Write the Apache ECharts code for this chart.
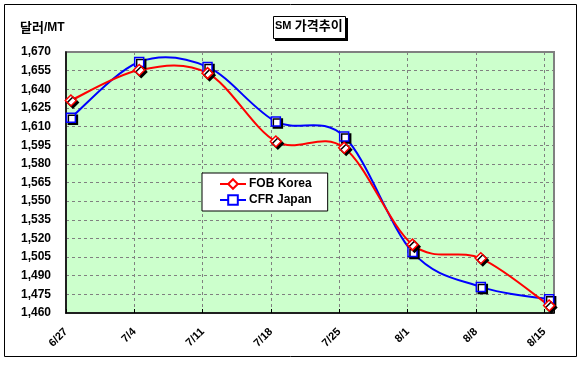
<!DOCTYPE html>
<html>
<head>
<meta charset="utf-8">
<script src="https://cdn.jsdelivr.net/npm/echarts@6/dist/echarts.min.js"></script>
<style>
html,body{margin:0;padding:0;background:#fff;}
#chart{width:587px;height:366px;}
</style>
</head>
<body>
<div id="chart"></div>
<script>
// ---- data ----
var dates = ['6/27', '7/4', '7/11', '7/18', '7/25', '8/1', '8/8', '8/15'];
var fobKorea = [1631, 1655.5, 1653, 1598, 1593, 1515, 1504, 1466];
var cfrJapan = [1617, 1662, 1658, 1614, 1602, 1509, 1481, 1471];
var yTicks = {min: 1460, max: 1670, step: 15};
var titleMain = 'SM';
var titleSub = '가격추이';
var unitMain = '달러';
var unitSub = '/MT';
var seriesNames = ['FOB Korea', 'CFR Japan'];

// day offset of each date from the first date (date axis)
function toDate(s) { var p = s.split('/'); return new Date(2000, +p[0] - 1, +p[1]); }
var start = toDate(dates[0]);
var dayIdx = dates.map(function (d) { return Math.round((toDate(d) - start) / 86400000); });
var lastDay = dayIdx[dayIdx.length - 1] + 1;
var labelByDay = {};
dayIdx.forEach(function (d, i) { labelByDay[d] = dates[i]; });
function pairs(vals) { return vals.map(function (v, i) { return [dayIdx[i] + 0.5, v]; }); }

// Excel-like smoothed line (Catmull-Rom bezier in screen space), drawn via the axes' scales
function smoothRenderer(vals, color) {
  var data = pairs(vals);
  return function (params, api) {
    var i = params.dataIndex, n = data.length;
    if (i >= n - 1) return null;
    var P = function (k) { k = Math.max(0, Math.min(n - 1, k)); return api.coord(data[k]); };
    var p0 = P(i - 1), p1 = P(i), p2 = P(i + 1), p3 = P(i + 2);
    return {
      type: 'bezierCurve',
      shape: {
        x1: p1[0], y1: p1[1], x2: p2[0], y2: p2[1],
        cpx1: p1[0] + (p2[0] - p0[0]) / 6, cpy1: p1[1] + (p2[1] - p0[1]) / 6,
        cpx2: p2[0] - (p3[0] - p1[0]) / 6, cpy2: p2[1] - (p3[1] - p1[1]) / 6
      },
      style: {stroke: color, lineWidth: 2, fill: null}
    };
  };
}

var chart = echarts.init(document.getElementById('chart'), null, {renderer: 'canvas'});
var shadow = {shadowColor: '#000', shadowBlur: 0, shadowOffsetX: 2, shadowOffsetY: 2};
var option = {
  animation: false,
  backgroundColor: '#fff',
  grid: {left: 66, top: 52, right: 33, bottom: 53, show: true, backgroundColor: '#CCFFCC', borderColor: '#808080', borderWidth: 2},
  xAxis: {
    type: 'value', min: 0, max: lastDay, interval: 7,
    axisLine: {show: true, onZero: false, lineStyle: {color: '#000', width: 1.5}},
    axisTick: {show: true, inside: true, length: 4, lineStyle: {color: '#000'}},
    splitLine: {show: true, lineStyle: {color: '#808080', type: [3, 3], width: 1}},
    axisLabel: {
      rotate: 45, margin: 17, fontFamily: 'Arial, Liberation Sans', fontWeight: 'bold', fontSize: 11, color: '#000',
      formatter: function (v) { return labelByDay[v] !== undefined ? labelByDay[v] : ''; }
    }
  },
  yAxis: {
    type: 'value', min: yTicks.min, max: yTicks.max, interval: yTicks.step,
    axisLine: {show: true, lineStyle: {color: '#000', width: 1.5}},
    axisTick: {show: false},
    splitLine: {show: true, lineStyle: {color: '#808080', type: [3, 3], width: 1}},
    axisLabel: {
      margin: 15, fontFamily: 'Arial, Liberation Sans', fontWeight: 'bold', fontSize: 12, color: '#000',
      formatter: function (v) { return v.toLocaleString('en-US'); }
    }
  },
  legend: {
    orient: 'vertical', left: 202, top: 173,
    padding: [5, 16, 5, 17], itemGap: 4, itemWidth: 26, itemHeight: 12,
    backgroundColor: '#fff', borderColor: '#000', borderWidth: 1,
    lineStyle: {width: 2, opacity: 1},
    textStyle: {fontFamily: 'Arial, Liberation Sans', fontWeight: 'bold', fontSize: 12, color: '#000', padding: [0, 0, 0, -2]},
    data: seriesNames
  },
  series: [
    {
      type: 'custom', renderItem: smoothRenderer(fobKorea, '#FF0000'), data: pairs(fobKorea),
      encode: {x: 0, y: 1}, z: 2, silent: true
    },
    {
      type: 'custom', renderItem: smoothRenderer(cfrJapan, '#0000FF'), data: pairs(cfrJapan),
      encode: {x: 0, y: 1}, z: 1, silent: true
    },
    {
      name: seriesNames[0], type: 'line', data: pairs(fobKorea),
      symbol: 'diamond', symbolSize: 11,
      lineStyle: {color: '#FF0000', width: 2, opacity: 0},
      itemStyle: Object.assign({color: '#fff', borderColor: '#FF0000', borderWidth: 1.5}, shadow),
      z: 4
    },
    {
      name: seriesNames[1], type: 'line', data: pairs(cfrJapan),
      symbol: 'rect', symbolSize: 9,
      lineStyle: {color: '#0000FF', width: 2, opacity: 0},
      itemStyle: Object.assign({color: '#fff', borderColor: '#0000FF', borderWidth: 1.5}, shadow),
      z: 3
    }
  ],
  graphic: [
    {type: 'rect', shape: {x: 4.5, y: 4.5, width: 572, height: 352}, style: {fill: 'none', stroke: '#000', lineWidth: 1}, silent: true, z: 100},
    {type: 'rect', shape: {x: 275, y: 18, width: 73, height: 23}, style: {fill: '#000'}, z: 100},
    {type: 'rect', shape: {x: 273.5, y: 16.5, width: 72, height: 22}, style: {fill: '#fff', stroke: '#000', lineWidth: 1}, z: 101},
    {type: 'text', x: 275, y: 19, z: 102, style: {
      text: '{a|' + titleMain + '} {b|' + titleSub + '}',
      rich: {
        a: {fontFamily: 'Arial, Liberation Sans', fontWeight: 'bold', fontSize: 11, fill: '#000'},
        b: {fontFamily: 'Noto Sans CJK KR', fontWeight: 'bold', fontSize: 13, fill: '#000'}
      }
    }},
    {type: 'text', x: 20, y: 21, z: 102, style: {
      text: '{a|' + unitMain + '}{b|' + unitSub + '}',
      rich: {
        a: {fontFamily: 'Noto Sans CJK KR', fontWeight: 'bold', fontSize: 13, fill: '#000'},
        b: {fontFamily: 'Arial, Liberation Sans', fontWeight: 'bold', fontSize: 12, fill: '#000'}
      }
    }}
  ]
};
chart.setOption(option);
</script>
</body>
</html>
